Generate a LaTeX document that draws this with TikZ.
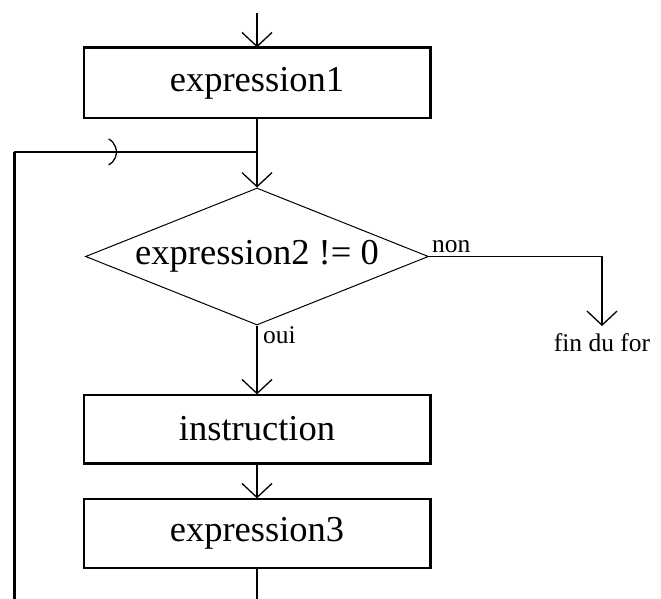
\documentclass[tikz,border=0pt]{standalone}
\usepackage{fontspec}
\setmainfont{Liberation Serif}
\usetikzlibrary{shapes.geometric,arrows.meta}

\begin{document}
\begin{tikzpicture}[x=1pt,y=-1pt,
  box/.style={draw, line width=1.3pt, minimum width=346pt, inner sep=0pt,
    font=\fontsize{36.5}{40}\selectfont},
  test/.style={draw, diamond, aspect=2.5, minimum width=343pt, minimum height=137pt,
    inner sep=0pt, line width=1pt, font=\fontsize{36.5}{40}\selectfont},
  flow/.style={line width=1.3pt},
  barb/.style={-{Straight Barb[length=14pt,width=30pt]}},
  loopbarb/.style={-{Arc Barb[length=14pt,width=30pt,arc=130]}},
  heavy/.style={line width=3.5pt, line cap=square, line join=miter},
  small/.style={font=\fontsize{25.5}{28}\selectfont, inner sep=0pt}]

  \useasboundingbox (0,0) rectangle (661,599);

  % process boxes and the loop test
  \node[box, minimum height=70pt] (e1) at (257,83) {expression1};
  \node[test] (cond) at (257,256.5) {expression2 != 0};
  \node[box, minimum height=68pt] (instr) at (257,429) {instruction};
  \node[box, minimum height=69pt] (e3) at (257,533.5) {expression3};

  % heavy shadow edges on the boxes
  \draw[heavy] (e1.north west) -- (e1.north east) -- (e1.south east);
  \draw[heavy] (instr.north east) -- (instr.south east) -- (instr.south west);
  \draw[heavy] (e3.north east) -- (e3.south east);

  % branch labels
  \node[small, anchor=base west] (non) at (432,252) {non};
  \node[small, anchor=base west] (oui) at (263,343) {oui};
  \node[small, anchor=north, inner ysep=7pt] (fin) at (602,326) {fin du for};

  % auxiliary points of the loop
  \coordinate (entry) at (257,13);
  \coordinate (join) at (257,152);
  \coordinate (corner) at (14,152);
  \coordinate (mark) at (117,152);
  \coordinate (leftbottom) at (14,599);
  \coordinate (out) at (257,599);

  % main flow
  \draw[flow, barb] (entry) -- (e1.north);
  \draw[flow, barb] (e1.south) -- (cond.north);
  \draw[flow, barb] (cond.south) -- (instr.north);
  \draw[flow, barb] (instr.south) -- (e3.north);
  \draw[flow] (e3.south) -- (out);
  \draw[flow, barb] (cond.east) -| (fin.north);

  % return path of the loop
  \draw[line width=3pt] (leftbottom) -- (corner);
  \draw[flow, loopbarb] (corner) -- (mark);
  \draw[flow] (mark) -- (join);
\end{tikzpicture}
\end{document}
